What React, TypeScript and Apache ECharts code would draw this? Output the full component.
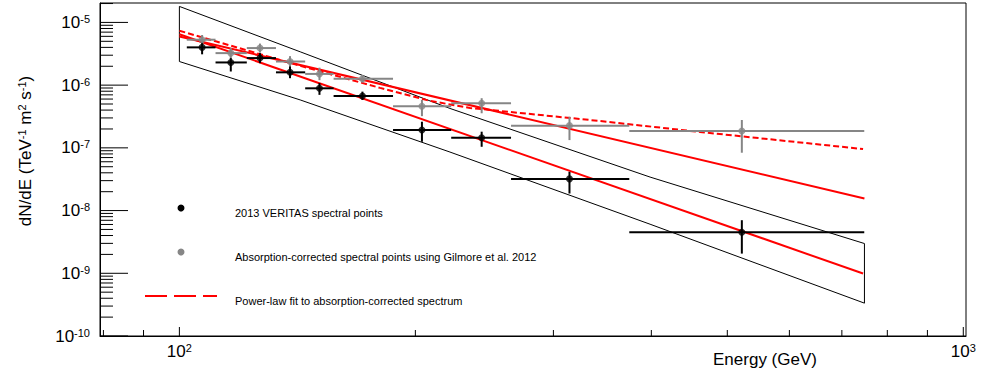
import React, { useEffect, useRef } from "react";
import * as echarts from "echarts";

const FONT = '"Liberation Sans", Arial, Helvetica, sans-serif';

// Energy bins (GeV)
const energy = [106.9, 116.3, 126.7, 138.4, 150.9, 171.2, 203.9, 243.0, 314.5, 521.8];
const energyLow = [102.2, 111.2, 121.9, 132.8, 144.7, 157.3, 187.3, 222.2, 264.9, 374.9];
const energyHigh = [111.2, 121.9, 132.8, 144.7, 157.3, 187.3, 222.2, 264.9, 374.9, 747.6];

// 2013 VERITAS spectral points (TeV^-1 m^-2 s^-1)
const veritasFlux = [4.0e-6, 2.3e-6, 2.7e-6, 1.6e-6, 8.9e-7, 6.7e-7, 1.93e-7, 1.45e-7, 3.2e-8, 4.5e-9];
const veritasLow = [3.1e-6, 1.65e-6, 2.24e-6, 1.29e-6, 7.0e-7, 5.81e-7, 1.25e-7, 1.04e-7, 1.87e-8, 2.06e-9];
const veritasHigh = [4.8e-6, 2.7e-6, 3.24e-6, 1.98e-6, 1.08e-6, 7.88e-7, 2.61e-7, 1.81e-7, 4.15e-8, 7.02e-9];

// Absorption-corrected spectral points
const correctedFlux = [5.3e-6, 3.24e-6, 3.9e-6, 2.38e-6, 1.51e-6, 1.26e-6, 4.6e-7, 5.15e-7, 2.26e-7, 1.86e-7];
const correctedLow = [4.4e-6, 2.65e-6, 3.3e-6, 1.9e-6, 1.2e-6, 1.1e-6, 3.2e-7, 3.56e-7, 1.33e-7, 8.36e-8];
const correctedHigh = [6.3e-6, 3.9e-6, 4.6e-6, 2.9e-6, 1.9e-6, 1.45e-6, 5.8e-7, 6.19e-7, 3.14e-7, 2.78e-7];

// Butterfly (confidence band) edges
const bowtieE = [100, 142.6, 221.4, 398.5, 748];
const bowtieUpper = [1.8e-5, 3.4e-6, 4.25e-7, 3.42e-8, 2.98e-9];
const bowtieLower = [2.38e-6, 5.81e-7, 8.57e-8, 6.06e-9, 3.34e-10];

// Fit curves
const fitObservedE = [100, 745];
const fitObservedF = [6.48e-6, 9.9e-10];
const fitUpperE = [100, 748];
const fitUpperF = [5.97e-6, 1.56e-8];
const fitCorrectedE = [100, 142.6, 180.3, 208.8, 234.9, 272.0, 344.0, 461.5, 745];
const fitCorrectedF = [7.37e-6, 2.03e-6, 9.04e-7, 5.6e-7, 4.33e-7, 3.6e-7, 2.68e-7, 1.79e-7, 9.57e-8];

// Axis ticks
const xMajorTicks = [100, 1000];
const xMinorTicks = [80, 90, 200, 300, 400, 500, 600, 700, 800, 900];
const yDecades = [1e-10, 1e-9, 1e-8, 1e-7, 1e-6, 1e-5];
const yMantissas = [2, 3, 4, 5, 6, 7, 8, 9];

const X_MIN = 79.2;
const X_MAX = 1008;
const Y_MIN = 1e-10;
const Y_MAX = 2.04e-5;

const legendNames = [
  "2013 VERITAS spectral points",
  "Absorption-corrected spectral points using Gilmore et al. 2012",
  "Power-law fit to absorption-corrected spectrum",
];

const BLACK = "#000000";
const GRAY = "#868686";
const RED = "#ff0000";

function pow10Label(v: number) {
  const l = Math.log10(v);
  const p = Math.round(l);
  if (Math.abs(l - p) > 1e-6) return "";
  return `{b|10}{s|${p}}`;
}

const labelRich = {
  b: { fontSize: 17, lineHeight: 18, fontFamily: FONT, color: "#000" },
  s: { fontSize: 11, lineHeight: 11, fontFamily: FONT, color: "#000", verticalAlign: "top" },
};

function errorSeries(name: string, flux: number[], lo: number[], hi: number[], color: string) {
  return {
    type: "custom",
    name: name + " errors",
    z: 5,
    silent: true,
    encode: { x: 0, y: 1 },
    data: energy.map((e, i) => [e, flux[i], energyLow[i], energyHigh[i], lo[i], hi[i]]),
    renderItem: (params: any, api: any) => {
      const c = api.coord([api.value(0), api.value(1)]);
      const xl = api.coord([api.value(2), api.value(1)]);
      const xh = api.coord([api.value(3), api.value(1)]);
      const yl = api.coord([api.value(0), api.value(4)]);
      const yh = api.coord([api.value(0), api.value(5)]);
      return {
        type: "group",
        children: [
          { type: "line", shape: { x1: xl[0], y1: c[1], x2: xh[0], y2: c[1] }, style: { stroke: color, lineWidth: 2 } },
          { type: "line", shape: { x1: c[0], y1: yh[1], x2: c[0], y2: yl[1] }, style: { stroke: color, lineWidth: 2 } },
        ],
      };
    },
  };
}

export default function App() {
  const ref = useRef<HTMLDivElement>(null);

  useEffect(() => {
    document.body.style.margin = "0";
    if (!ref.current) return;
    const chart = echarts.init(ref.current, null, { renderer: "svg" });

    const xTickData = [
      ...xMajorTicks.map((v) => [v, Y_MIN, 9]),
      ...xMinorTicks.map((v) => [v, Y_MIN, 6]),
    ];
    const yTickData: number[][] = [];
    yDecades.forEach((d) => {
      yTickData.push([X_MIN, d, 28]);
      yMantissas.forEach((m) => {
        const v = d * m;
        if (v <= Y_MAX) yTickData.push([X_MIN, v, 13]);
      });
    });

    const bowtie = [
      ...bowtieE.map((e, i) => [e, bowtieUpper[i]]),
      ...bowtieE.map((e, i) => [e, bowtieLower[i]]).reverse(),
      [bowtieE[0], bowtieUpper[0]],
    ];

    const option: any = {
      animation: false,
      backgroundColor: "#ffffff",
      grid: {
        left: 100,
        right: 30,
        top: 3,
        bottom: 38,
        show: true,
        borderColor: "#000",
        borderWidth: 1,
        containLabel: false,
        outerBoundsMode: "none",
      },
      xAxis: {
        type: "log",
        min: X_MIN,
        max: X_MAX,
        axisLine: { show: true, lineStyle: { color: "#000", width: 1 } },
        axisTick: { show: false },
        splitLine: { show: false },
        minorTick: { show: false },
        axisLabel: {
          margin: 6,
          formatter: pow10Label,
          rich: labelRich,
        },
      },
      yAxis: {
        type: "log",
        min: Y_MIN,
        max: Y_MAX,
        axisLine: { show: true, lineStyle: { color: "#000", width: 1 } },
        axisTick: { show: false },
        splitLine: { show: false },
        minorTick: { show: false },
        axisLabel: {
          margin: 10,
          formatter: pow10Label,
          rich: labelRich,
        },
        name: "{t|dN/dE (TeV}{s|-1}{t| m}{s|2}{t| s}{s|-1}{t|)}",
        nameLocation: "middle",
        nameRotate: 90,
        nameGap: 66,
        nameTextStyle: {
          padding: [0, 0, 0, 37],
          rich: {
            t: { fontSize: 17, lineHeight: 18, fontFamily: FONT, color: "#000" },
            s: { fontSize: 11, lineHeight: 11, fontFamily: FONT, color: "#000", verticalAlign: "top" },
          },
        },
      },
      series: [
        {
          type: "line",
          name: "butterfly",
          z: 1,
          silent: true,
          symbol: "none",
          data: bowtie,
          lineStyle: { color: "#000", width: 1 },
        },
        {
          type: "line",
          name: "fit observed",
          z: 2,
          silent: true,
          symbol: "none",
          data: fitObservedE.map((e, i) => [e, fitObservedF[i]]),
          lineStyle: { color: RED, width: 2 },
        },
        {
          type: "line",
          name: "fit upper",
          z: 2,
          silent: true,
          symbol: "none",
          data: fitUpperE.map((e, i) => [e, fitUpperF[i]]),
          lineStyle: { color: RED, width: 2 },
        },
        {
          type: "line",
          name: legendNames[2],
          z: 2,
          silent: true,
          symbol: "none",
          data: fitCorrectedE.map((e, i) => [e, fitCorrectedF[i]]),
          lineStyle: { color: RED, width: 2, type: [6, 3] },
        },
        errorSeries(legendNames[1], correctedFlux, correctedLow, correctedHigh, GRAY),
        errorSeries(legendNames[0], veritasFlux, veritasLow, veritasHigh, BLACK),
        {
          type: "scatter",
          name: legendNames[1],
          z: 6,
          symbol: "circle",
          symbolSize: 7,
          itemStyle: { color: GRAY },
          data: energy.map((e, i) => [e, correctedFlux[i]]),
        },
        {
          type: "scatter",
          name: legendNames[0],
          z: 6,
          symbol: "circle",
          symbolSize: 7,
          itemStyle: { color: BLACK },
          data: energy.map((e, i) => [e, veritasFlux[i]]),
        },
        {
          type: "custom",
          name: "x ticks",
          z: 10,
          silent: true,
          clip: false,
          encode: { x: 0, y: 1 },
          data: xTickData,
          renderItem: (params: any, api: any) => {
            const p = api.coord([api.value(0), api.value(1)]);
            return {
              type: "line",
              shape: { x1: p[0], y1: p[1], x2: p[0], y2: p[1] - api.value(2) },
              style: { stroke: "#000", lineWidth: 1 },
            };
          },
        },
        {
          type: "custom",
          name: "y ticks",
          z: 10,
          silent: true,
          clip: false,
          encode: { x: 0, y: 1 },
          data: yTickData,
          renderItem: (params: any, api: any) => {
            const p = api.coord([api.value(0), api.value(1)]);
            return {
              type: "line",
              shape: { x1: p[0], y1: p[1], x2: p[0] + api.value(2), y2: p[1] },
              style: { stroke: "#000", lineWidth: 1 },
            };
          },
        },
      ],
      graphic: [
        { type: "circle", shape: { cx: 181, cy: 208, r: 3.5 }, style: { fill: BLACK } },
        {
          type: "text",
          x: 235,
          y: 213,
          style: { text: legendNames[0], fontSize: 11, fontFamily: FONT, fill: "#000", verticalAlign: "middle" },
        },
        { type: "circle", shape: { cx: 181, cy: 252, r: 3.5 }, style: { fill: GRAY } },
        {
          type: "text",
          x: 235,
          y: 257,
          style: { text: legendNames[1], fontSize: 11, fontFamily: FONT, fill: "#000", verticalAlign: "middle" },
        },
        {
          type: "line",
          shape: { x1: 145, y1: 296, x2: 217, y2: 296 },
          style: { stroke: RED, lineWidth: 2, lineDash: [22, 7] },
        },
        {
          type: "text",
          x: 235,
          y: 301,
          style: { text: legendNames[2], fontSize: 11, fontFamily: FONT, fill: "#000", verticalAlign: "middle" },
        },
        {
          type: "text",
          x: 765,
          y: 359,
          style: {
            text: "Energy (GeV)",
            fontSize: 17,
            fontFamily: FONT,
            fill: "#000",
            align: "center",
            verticalAlign: "middle",
          },
        },
      ],
    };

    chart.setOption(option);
    return () => chart.dispose();
  }, []);

  return <div ref={ref} style={{ width: 996, height: 374 }} />;
}
